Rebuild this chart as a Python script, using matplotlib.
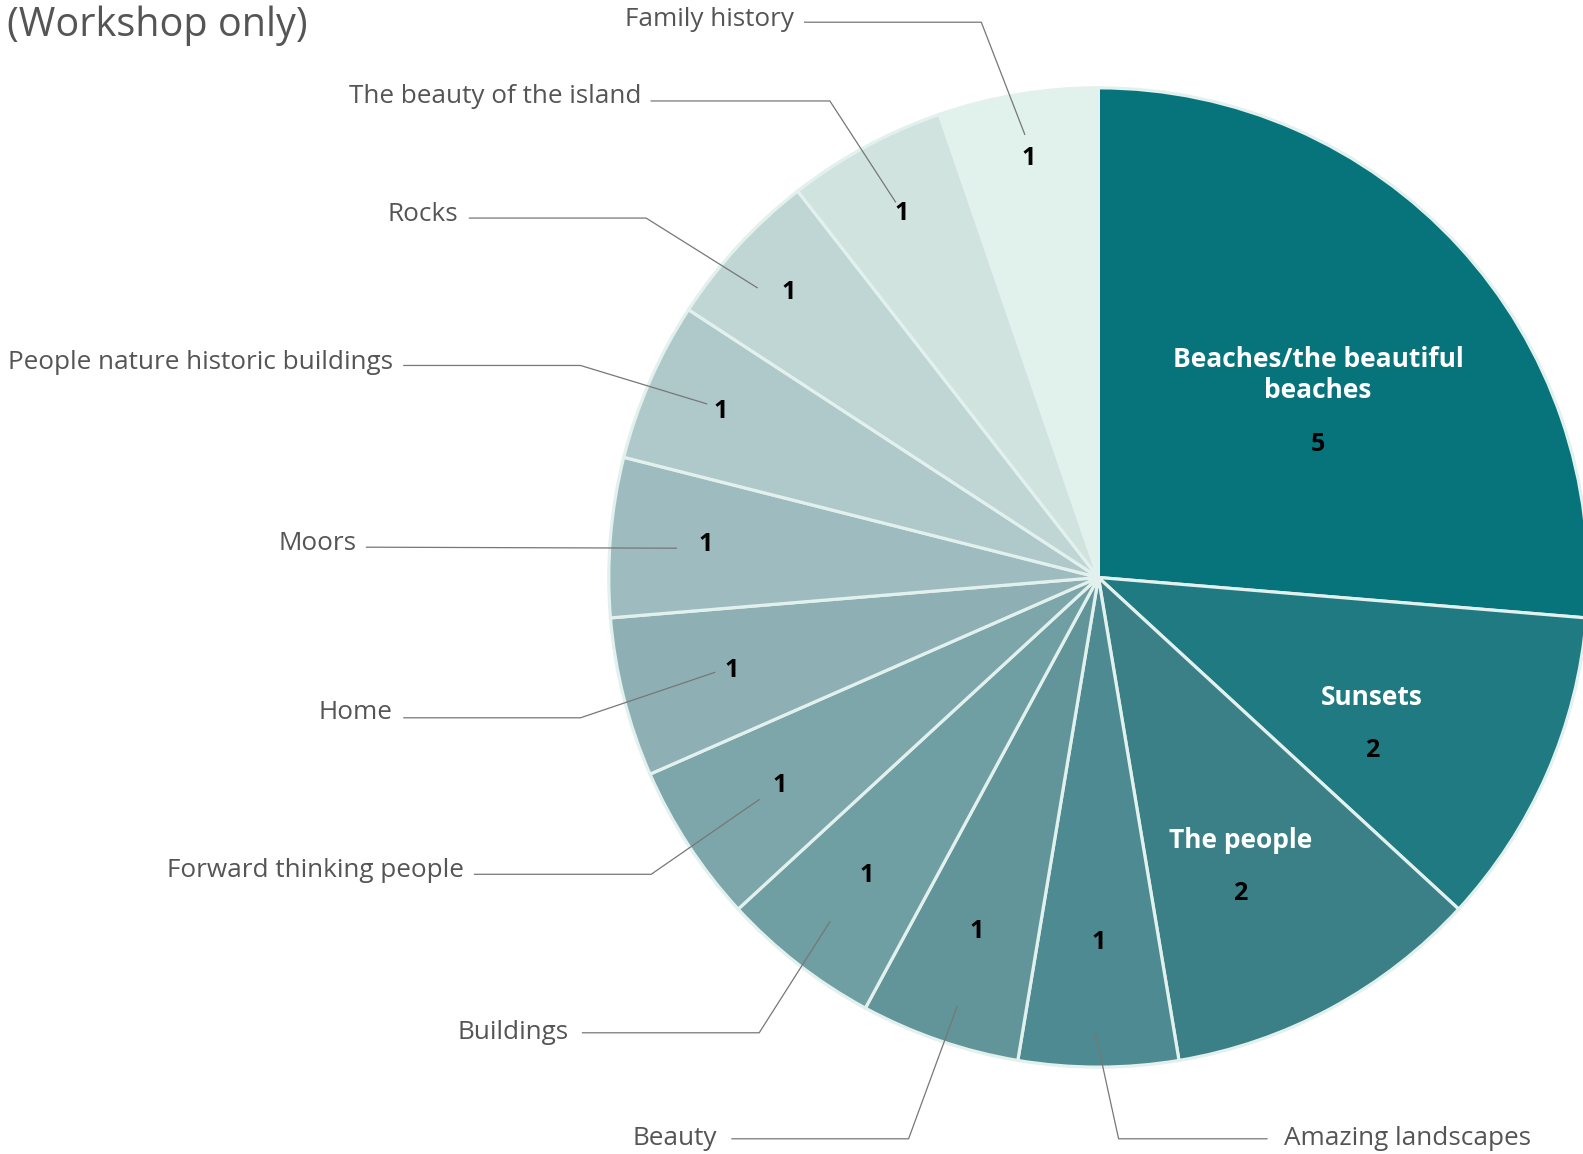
import numpy as np
import matplotlib.pyplot as plt

plt.rcParams['font.family'] = ['Open Sans', 'Noto Sans', 'DejaVu Sans']

# data
categories = ['Beaches/the beautiful\nbeaches', 'Sunsets', 'The people', 'Amazing landscapes',
              'Beauty', 'Buildings', 'Forward thinking people', 'Home', 'Moors',
              'People nature historic buildings', 'Rocks', 'The beauty of the island',
              'Family history']
values = [5, 2, 2, 1, 1, 1, 1, 1, 1, 1, 1, 1, 1]
colors = ['#07747C', '#207A81', '#3C8087', '#4D8A92', '#62959A', '#6F9FA3', '#7DA6AB',
          '#8EB0B4', '#9EBCC0', '#AFC9CB', '#BFD6D5', '#D0E3DF', '#E1F1EC']

W, H = 1583, 1154
S = W / 1568.0  # layout below measured on the 1568 wide picture

def px(x, y):
    return x * S, H - y * S

# value label radius for small slices (fraction of R)
val_r = [0.746, 0.765, 0.771, 0.777, 0.773, 0.804, 0.843, 0.86, 0.845, 0.868]
# outside labels: text anchor, alignment, leader line points
outside = [
    ((1272, 1128), 'left', [(1255, 1128), (1108, 1128), (1085, 1023)]),
    ((710, 1128), 'right', [(725, 1128), (900, 1128), (948, 997)]),
    ((563, 1023), 'right', [(577, 1023), (752, 1023), (822, 913)]),
    ((459, 862), 'right', [(470, 866), (645, 866), (752, 792)]),
    ((389, 706), 'right', [(400, 711), (575, 711), (708, 666)]),
    ((353, 538), 'right', [(363, 542), (670, 543)]),
    ((389, 359), 'right', [(400, 362), (575, 362), (700, 400)]),
    ((454, 212), 'right', [(465, 216), (640, 216), (750, 285)]),
    ((635, 96), 'right', [(645, 100), (822, 100), (887, 200)]),
    ((786, 19), 'right', [(797, 22), (972, 22), (1015, 133)]),
]

fig = plt.figure(figsize=(W / 100, H / 100), dpi=100)
ax = fig.add_axes([0, 0, 1, 1])

cx, cy = px(1088, 572)
R = 485 * S

ax.pie(values, colors=colors, startangle=90, counterclock=False, center=(cx, cy), radius=R,
       wedgeprops=dict(edgecolor='#E2F1ED', linewidth=2.3))

total = sum(values)
edges = 90 - 360 * np.concatenate([[0], np.cumsum(values)]) / total
mids = (edges[:-1] + edges[1:]) / 2

# big slices: name and value inside
for i in range(3):
    a = np.radians(mids[i])
    x = cx + 0.61 * R * np.cos(a)
    y = cy + 0.61 * R * np.sin(a)
    ax.text(x, y, categories[i], color='white', fontsize=19, fontweight='bold',
            ha='center', va='center', linespacing=1.2)
    nl = categories[i].count('\n')
    ax.text(x, y - (53 + 16 * nl) * S, str(values[i]), color='black', fontsize=18,
            fontweight='bold', ha='center', va='center')

# small slices: value inside, name outside with a leader line
for k, i in enumerate(range(3, len(values))):
    a = np.radians(mids[i])
    x = cx + val_r[k] * R * np.cos(a)
    y = cy + val_r[k] * R * np.sin(a)
    ax.text(x, y, str(values[i]), color='black', fontsize=18, fontweight='bold',
            ha='center', va='center')
    (tx, ty), ha, line = outside[k]
    ax.text(*px(tx, ty), categories[i], color='#555555', fontsize=18.8, ha=ha, va='center')
    lx, ly = zip(*[px(p, q) for p, q in line])
    ax.plot(lx, ly, color='#777777', lw=0.9)

ax.text(*px(7, 5), '(Workshop only)', color='#555555', fontsize=28.5, ha='left', va='top')

ax.set_xlim(0, W)
ax.set_ylim(0, H)
ax.set_aspect('equal')
ax.axis('off')

fig.savefig('out.png', dpi=100, facecolor='white')
